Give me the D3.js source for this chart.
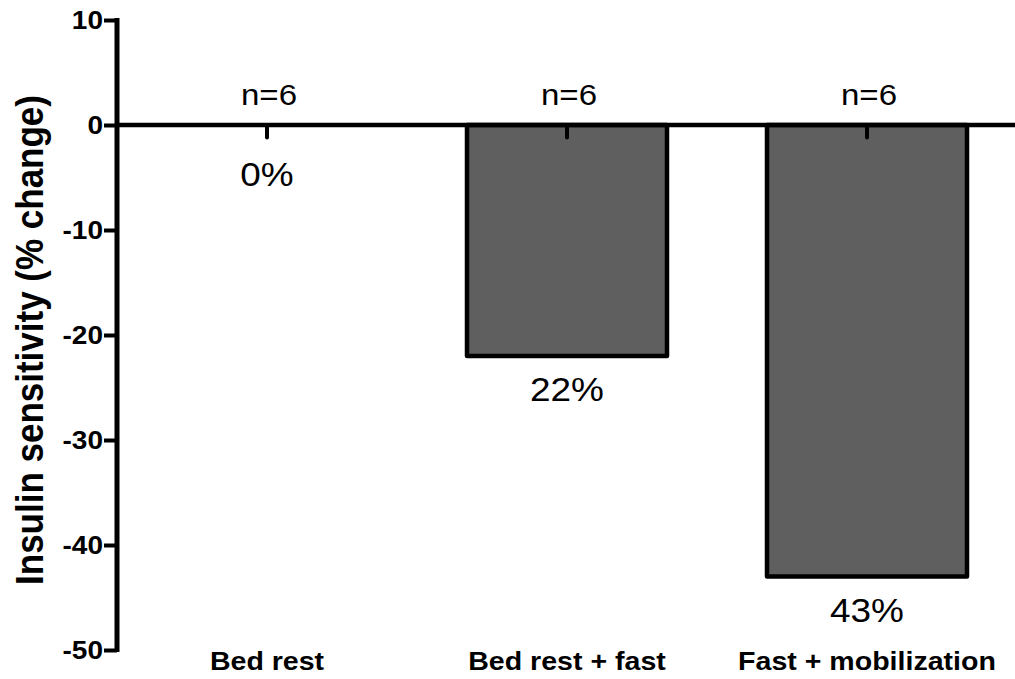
<!DOCTYPE html>
<html>
<head>
<meta charset="utf-8">
<script src="https://cdn.jsdelivr.net/npm/d3@7"></script>
<style>
  html, body { margin: 0; padding: 0; background: #fff; }
  svg { display: block; }
  text { font-family: "Liberation Sans", Arial, sans-serif; fill: #000; }
</style>
</head>
<body>
<svg id="chart" width="1015" height="679"></svg>
<script>
const categories = ["Bed rest", "Bed rest + fast", "Fast + mobilization"];
const values = [0, -22, -43];
const nLabels = ["n=6", "n=6", "n=6"];
const pctLabels = ["0%", "22%", "43%"];
const errors = [1.2, 1.2, 1.2];
const yTicks = [10, 0, -10, -20, -30, -40, -50];
const yTitle = "Insulin sensitivity (% change)";

const svg = d3.select("#chart");
const W = 1015, H = 679;
const x0 = 117;
const SX = 1.12; // horizontal text stretch seen in the reference

const y = d3.scaleLinear().domain([-50, 10]).range([650, 20]);
const x = d3.scaleBand().domain(categories).range([x0, 1017])
  .paddingInner(1/3).paddingOuter(1/6);
const cx = d => x(d) + x.bandwidth() / 2;

// bars
svg.selectAll("rect.bar").data(categories).enter().append("rect")
  .attr("class", "bar")
  .attr("x", d => x(d))
  .attr("width", x.bandwidth())
  .attr("y", (d, i) => Math.min(y(0), y(values[i])))
  .attr("height", (d, i) => Math.abs(y(values[i]) - y(0)))
  .attr("fill", "#5f5f5f")
  .attr("stroke", "#000")
  .attr("stroke-width", 4.5)
  .attr("stroke-linejoin", "round");

// zero line
svg.append("line")
  .attr("x1", x0).attr("x2", W)
  .attr("y1", y(0)).attr("y2", y(0))
  .attr("stroke", "#000").attr("stroke-width", 4.5);

// error ticks
svg.selectAll("line.err").data(categories).enter().append("line")
  .attr("class", "err")
  .attr("x1", cx).attr("x2", cx)
  .attr("y1", y(0))
  .attr("y2", (d, i) => y(0 - errors[i]))
  .attr("stroke", "#000").attr("stroke-width", 4)
  .attr("stroke-linecap", "round");

// y axis
const yAxis = d3.axisLeft(y).tickValues(yTicks).tickSize(13).tickPadding(2)
  .tickFormat(d => String(d));
const gy = svg.append("g").attr("transform", `translate(${x0},0)`).call(yAxis);
gy.select(".domain").remove();
gy.append("line")
  .attr("x1", 0).attr("x2", 0)
  .attr("y1", y(10) - 2).attr("y2", y(-50) + 2)
  .attr("stroke", "#000").attr("stroke-width", 5);
gy.selectAll(".tick line").attr("stroke", "#000").attr("stroke-width", 4);
gy.selectAll(".tick text")
  .attr("font-family", '"Liberation Sans", Arial, sans-serif')
  .attr("font-size", 25).attr("font-weight", "bold").attr("fill", "#000")
  .attr("x", 0).attr("dy", "0.35em")
  .attr("transform", `translate(-14,0) scale(${SX},1)`);

// y title
svg.append("text")
  .attr("transform", `translate(43,${(y(10) + y(-50)) / 2 + 5}) rotate(-90) scale(1,${SX})`)
  .attr("text-anchor", "middle")
  .attr("font-size", 35).attr("font-weight", "bold")
  .text(yTitle);

// n labels
svg.selectAll("text.n").data(categories).enter().append("text")
  .attr("class", "n")
  .attr("transform", d => `translate(${cx(d) + 2},${y(0) - 20}) scale(${SX},1)`)
  .attr("text-anchor", "middle")
  .attr("font-size", 29.5)
  .text((d, i) => nLabels[i]);

// percent labels
svg.selectAll("text.pct").data(categories).enter().append("text")
  .attr("class", "pct")
  .attr("transform", (d, i) =>
    `translate(${cx(d)},${Math.max(y(values[i]), y(0) + 16) + 45}) scale(${SX},1)`)
  .attr("text-anchor", "middle")
  .attr("font-size", 33)
  .text((d, i) => pctLabels[i]);

// category labels
svg.selectAll("text.cat").data(categories).enter().append("text")
  .attr("class", "cat")
  .attr("transform", d => `translate(${cx(d)},670) scale(${SX},1)`)
  .attr("text-anchor", "middle")
  .attr("font-size", 25.5).attr("font-weight", "bold")
  .text(d => d);
</script>
</body>
</html>
